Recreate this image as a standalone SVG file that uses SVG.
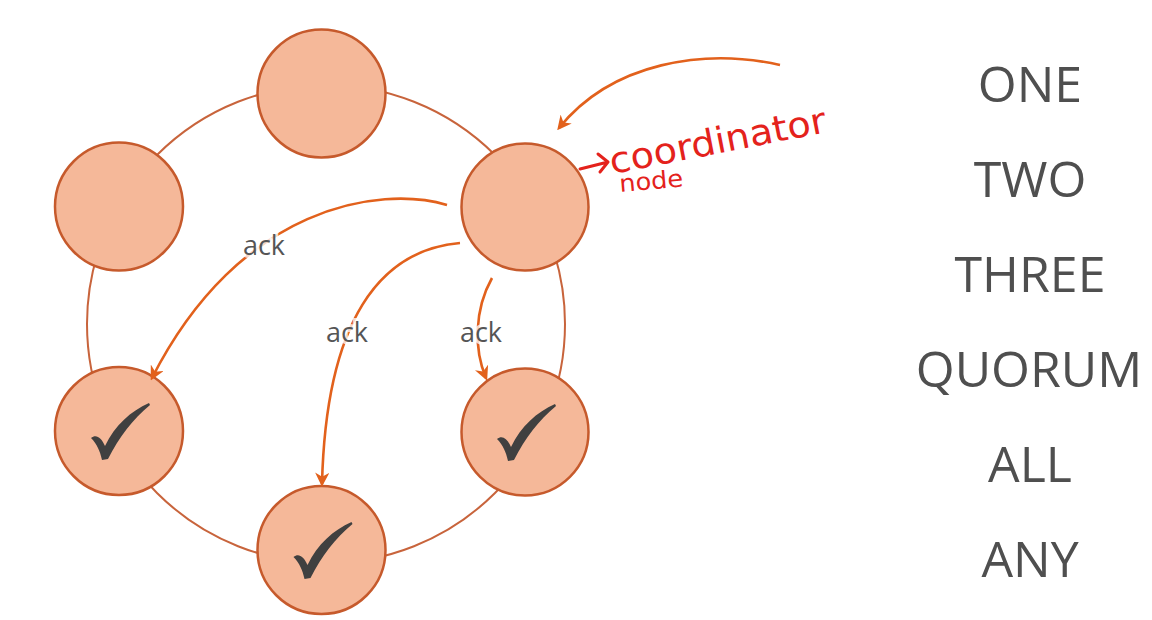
<svg xmlns="http://www.w3.org/2000/svg" width="1152" height="620" viewBox="0 0 1152 620">
<style>
.node{fill:#f5b899;stroke:#c65a2c;stroke-width:2.5}
.ring{fill:none;stroke:#c8643c;stroke-width:2}
.ack{fill:none;stroke:#e2611c;stroke-width:2.6;marker-end:url(#ah)}
.lbl{font-family:"Open Sans","Liberation Sans",sans-serif;font-size:27px;fill:#555;text-anchor:middle;stroke:#fff;stroke-width:6;stroke-opacity:0.75;paint-order:stroke}
.lvl{font-family:"Open Sans","Liberation Sans",sans-serif;font-size:50px;fill:#4f4f4f;text-anchor:middle}
.hand{font-family:"DejaVu Sans",sans-serif;fill:#e4221c;font-weight:normal}
.chk{fill:#404040}
</style>
<defs>
<marker id="ah" viewBox="0 0 10 10" refX="8" refY="5" markerWidth="5.5" markerHeight="5.5" orient="auto" markerUnits="strokeWidth">
<path d="M0,0 L10,5 L0,10 L3,5 Z" fill="#e2611c"/>
</marker>
<path id="check" d="M-28,7 C-23,3 -18,6 -14,15 C-4,-6 12,-20 30,-28 L31,-26 C14,-12 0,6 -11,28 L-17,29 C-19,20 -22,13 -28,7 Z"/>
</defs>
<rect width="1152" height="620" fill="#fff"/>
<g id="ring"><circle class="ring" cx="326" cy="324" r="239"/></g>
<g id="node-top"><circle class="node" cx="321.5" cy="93.5" r="64"/></g>
<g id="node-topleft"><circle class="node" cx="119" cy="206.5" r="64"/></g>
<g id="node-coordinator"><circle class="node" cx="525" cy="207" r="63.5"/></g>
<g id="node-bottomleft"><circle class="node" cx="119" cy="431" r="64"/><use href="#check" class="chk" x="119" y="431"/></g>
<g id="node-bottomright"><circle class="node" cx="525" cy="432" r="63.5"/><use href="#check" class="chk" x="525" y="432"/></g>
<g id="node-bottom"><circle class="node" cx="321.5" cy="550" r="64"/><use href="#check" class="chk" x="321.5" y="550"/></g>
<g id="connectors">
<path class="ack" d="M780,65 C705,48 612,62 559,128"/>
<path class="ack" d="M447,205 C380,185 240,205 152,378"/>
<path class="ack" d="M460,243 C380,250 326,320 322,484"/>
<path class="ack" d="M492,278 C474,310 474,350 486,378"/>
</g>
<g id="labels">
<text class="lbl" x="264" y="255">ack</text>
<text class="lbl" x="347" y="342">ack</text>
<text class="lbl" x="481" y="342">ack</text>
</g>
<g id="annotation">
<path d="M580,169 L608,162 M598,154 L608,162 L600,172" fill="none" stroke="#e4221c" stroke-width="3" stroke-linecap="round" stroke-linejoin="round"/>
<text class="hand" font-size="36" transform="translate(612,174) rotate(-11)" textLength="220" lengthAdjust="spacingAndGlyphs">coordinator</text>
<text class="hand" font-size="24" transform="translate(620,192) rotate(-5)" textLength="64" lengthAdjust="spacingAndGlyphs">node</text>
</g>
<g id="levels">
<text class="lvl" x="1030" y="102">ONE</text>
<text class="lvl" x="1030" y="197">TWO</text>
<text class="lvl" x="1030" y="292">THREE</text>
<text class="lvl" x="1029" y="387">QUORUM</text>
<text class="lvl" x="1030" y="482">ALL</text>
<text class="lvl" x="1030" y="577">ANY</text>
</g>
</svg>
